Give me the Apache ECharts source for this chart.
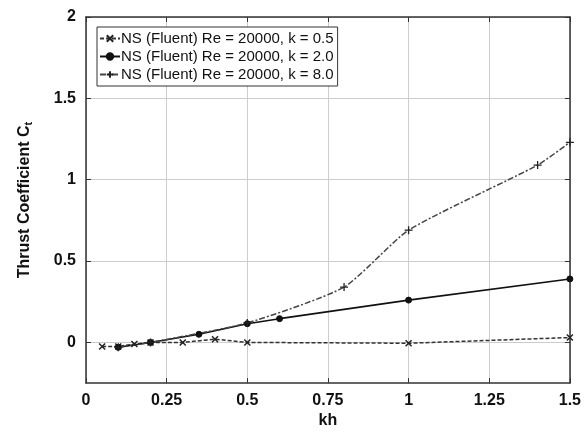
<!DOCTYPE html>
<html>
<head>
<meta charset="utf-8">
<script src="https://cdn.jsdelivr.net/npm/echarts@6/dist/echarts.min.js"></script>
<style>
  html, body { margin: 0; padding: 0; background: #fff; }
  #chart { width: 584px; height: 434px; }
</style>
</head>
<body>
<div id="chart"></div>
<script>
// data: [kh, Ct]
var k05 = [[0.05, -0.025], [0.1, -0.025], [0.15, -0.01], [0.2, 0.0], [0.3, 0.0], [0.4, 0.02], [0.5, 0.0], [1.0, -0.005], [1.5, 0.03]]
var k20 = [[0.1, -0.03], [0.2, 0.0], [0.35, 0.05], [0.5, 0.115], [0.6, 0.146], [1.0, 0.26], [1.5, 0.39]]
var k80 = [[0.1, -0.03], [0.2, 0.0], [0.5, 0.12], [0.8, 0.34], [1.0, 0.69], [1.4, 1.09], [1.5, 1.23]]
var names = ['NS (Fluent) Re = 20000, k = 0.5', 'NS (Fluent) Re = 20000, k = 2.0', 'NS (Fluent) Re = 20000, k = 8.0']
var yTicks = [0, 0.5, 1, 1.5, 2]

var font = 'Liberation Sans, Arial, Helvetica, sans-serif'
var chart = echarts.init(document.getElementById('chart'), null, { renderer: 'canvas' })

var edge = { show: true, onZero: false, lineStyle: { color: '#333', width: 1.5 } }
var tick = { show: true, inside: true, length: 5, lineStyle: { color: '#333', width: 1 } }
var grid = { show: true, lineStyle: { color: '#ccc', width: 1, type: 'solid' } }

var option = {
    animation: false,
    backgroundColor: '#fff',
    grid: { left: 86, right: 14, top: 17, bottom: 47 },
    legend: {
        orient: 'vertical',
        left: 97, top: 27,
        padding: [4, 4, 4, 2],
        itemGap: 3,
        itemWidth: 20, itemHeight: 8,
        borderColor: '#333', borderWidth: 1,
        backgroundColor: '#fff',
        textStyle: { fontFamily: font, fontSize: 15, color: '#111', padding: [0, 0, 0, -4] },
        data: names
    },
    xAxis: [{
        type: 'value', min: 0, max: 1.5, interval: 0.25,
        name: 'kh', nameLocation: 'middle', nameGap: 28,
        nameTextStyle: { fontFamily: font, fontSize: 16, fontWeight: 'bold', color: '#111' },
        axisLine: edge, axisTick: tick, splitLine: grid,
        axisLabel: { fontFamily: font, fontSize: 16, fontWeight: 'bold', color: '#111', margin: 9 }
    }, {
        type: 'value', min: 0, max: 1.5, interval: 0.25, position: 'top',
        axisLine: edge, axisTick: tick, splitLine: { show: false }, axisLabel: { show: false }
    }],
    yAxis: [{
        type: 'value', min: -0.25, max: 2,
        name: '{a|Thrust Coefficient C}{b|t}', nameLocation: 'middle', nameGap: 52,
        nameTextStyle: {
            rich: {
                a: { fontFamily: font, fontSize: 16, fontWeight: 'bold', color: '#111' },
                b: { fontFamily: font, fontSize: 11, fontWeight: 'bold', color: '#111', padding: [8, 0, 0, 0] }
            }
        },
        axisLine: edge,
        axisTick: Object.assign({ customValues: yTicks }, tick),
        splitLine: grid,
        axisLabel: { customValues: yTicks, fontFamily: font, fontSize: 16, fontWeight: 'bold', color: '#111', margin: 10 }
    }, {
        type: 'value', min: -0.25, max: 2, position: 'right',
        axisLine: edge,
        axisTick: Object.assign({ customValues: yTicks }, tick),
        splitLine: { show: false },
        axisLabel: { show: false, customValues: yTicks }
    }],
    series: [{
        name: names[0], type: 'line', data: k05,
        symbol: 'path://M0,0L10,10M10,0L0,10', symbolSize: 6,
        itemStyle: { color: '#222', borderColor: '#222', borderWidth: 1.5 },
        lineStyle: { color: '#333', width: 1.5, type: [4, 2] }
    }, {
        name: names[1], type: 'line', data: k20,
        symbol: 'circle', symbolSize: 6,
        itemStyle: { color: '#111', borderColor: '#111', borderWidth: 1 },
        lineStyle: { color: '#111', width: 1.6, type: 'solid' }
    }, {
        name: names[2], type: 'line', data: k80, smooth: 0.2,
        symbol: 'path://M5,0L5,10M0,5L10,5', symbolSize: 8,
        itemStyle: { color: '#222', borderColor: '#222', borderWidth: 1.3 },
        lineStyle: { color: '#444', width: 1.5, type: [6, 2, 2, 2] }
    }]
}
chart.setOption(option)
</script>
</body>
</html>
